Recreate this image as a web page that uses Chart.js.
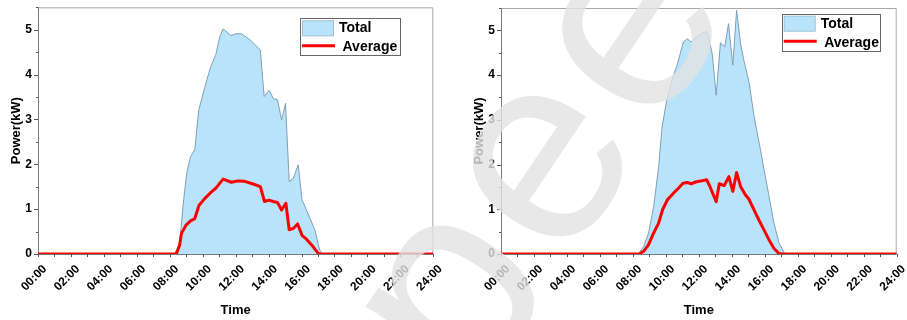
<!DOCTYPE html>
<html>
<head>
<meta charset="utf-8">
<script src="https://cdn.jsdelivr.net/npm/chart.js@4.4.0/dist/chart.umd.min.js"></script>
<style>
  html, body { margin: 0; padding: 0; background: #fff; }
  #wrap { position: relative; width: 907px; height: 320px; overflow: hidden; }
  #c1 { position: absolute; left: 0; top: 0; width: 453px; height: 320px; }
  #c2 { position: absolute; left: 453px; top: 0; width: 454px; height: 320px; }
  #wm { position: absolute; left: 0; top: 0; pointer-events: none; }
</style>
</head>
<body>
<div id="wrap">
  <canvas id="c1" width="453" height="320"></canvas>
  <canvas id="c2" width="454" height="320"></canvas>
  <svg id="wm" width="907" height="320">
    <text x="474" y="401" transform="rotate(-56 474 401)" font-family="Liberation Sans, Arial, sans-serif"
          font-size="270" letter-spacing="10" fill="#e3e3e3" opacity="0.8">peer review</text>
  </svg>
</div>
<script>
// Time of day in hours, power in kW

// Day 1
const day1TotalHours = [0, 8.3, 8.6, 8.8, 9.02, 9.26, 9.52, 9.76, 10.13, 10.47, 10.8, 11.04, 11.24, 11.71, 12.01, 12.35, 12.86, 13.5, 13.73, 14.03, 14.3, 14.54, 14.79, 15.03, 15.25, 15.5, 15.8, 16.03, 16.3, 16.81, 17.1, 17.28, 24];
const day1Total      = [0, 0, 0.24, 1.06, 1.78, 2.17, 2.33, 3.21, 3.72, 4.16, 4.45, 4.85, 5.02, 4.87, 4.91, 4.91, 4.78, 4.55, 3.51, 3.65, 3.46, 3.44, 2.99, 3.36, 1.61, 1.69, 1.99, 1.21, 0.98, 0.54, 0.09, 0, 0];
const day1AvgHours   = [0, 8.4, 8.6, 8.71, 9.0, 9.26, 9.52, 9.77, 10.13, 10.43, 10.8, 11.04, 11.24, 11.75, 12.15, 12.55, 13.06, 13.5, 13.75, 14.02, 14.28, 14.54, 14.79, 15.05, 15.25, 15.5, 15.76, 16.04, 16.3, 16.71, 17.0, 17.1, 24];
const day1Average    = [0, 0, 0.2, 0.46, 0.65, 0.74, 0.79, 1.08, 1.24, 1.35, 1.47, 1.58, 1.67, 1.6, 1.63, 1.62, 1.56, 1.5, 1.17, 1.2, 1.17, 1.15, 0.98, 1.13, 0.54, 0.57, 0.67, 0.41, 0.33, 0.16, 0.02, 0, 0];

// Day 2
const day2TotalHours = [0, 8.35, 8.65, 8.95, 9.26, 9.56, 9.77, 10.05, 10.35, 10.68, 11.06, 11.3, 11.53, 11.8, 12.1, 12.32, 12.52, 12.81, 13.05, 13.31, 13.57, 13.8, 14.06, 14.29, 14.53, 14.75, 15.05, 15.34, 15.7, 15.95, 16.25, 16.55, 16.86, 17.16, 17.25, 24];
const day2Total      = [0, 0, 0.17, 0.47, 1.06, 1.95, 2.84, 3.44, 3.87, 4.22, 4.74, 4.81, 4.74, 4.85, 4.9, 4.96, 4.97, 4.48, 3.55, 4.72, 4.63, 5.15, 4.22, 5.45, 4.7, 4.3, 3.83, 3.1, 2.4, 1.9, 1.3, 0.7, 0.25, 0.04, 0, 0];
const day2AvgHours   = [0, 8.35, 8.65, 8.95, 9.26, 9.56, 9.8, 10.09, 10.46, 10.76, 11.04, 11.29, 11.53, 11.8, 12.1, 12.47, 12.67, 13.05, 13.24, 13.54, 13.82, 14.06, 14.29, 14.53, 14.83, 15.03, 15.34, 15.64, 15.95, 16.25, 16.55, 16.86, 17.0, 24];
const day2Average    = [0, 0, 0.06, 0.21, 0.47, 0.69, 0.99, 1.21, 1.36, 1.47, 1.58, 1.6, 1.57, 1.61, 1.63, 1.66, 1.51, 1.17, 1.57, 1.53, 1.73, 1.4, 1.82, 1.51, 1.32, 1.23, 0.99, 0.76, 0.54, 0.32, 0.13, 0.01, 0, 0];

const seriesNames = ['Total', 'Average'];
const yTitle = 'Power(kW)';
const xTitle = 'Time';
const hourLabel = h => String(h).padStart(2, '0') + ':00';

const FILL = '#b9e3fa';
const EDGE = '#7f9fb5';
const RED = '#ff0000';
const FONT = 'Liberation Sans, Arial, sans-serif';

function points(xs, ys) { return xs.map((x, i) => ({ x: x, y: ys[i] })); }

// Box frame, hour ticks and half-kW ticks
const framePlugin = {
  id: 'frame',
  beforeDatasetsDraw(chart) {
    const { ctx, chartArea: a, scales: { x, y } } = chart;
    ctx.save();
    ctx.lineWidth = 1;
    ctx.strokeStyle = '#a8a8a8';
    ctx.beginPath();
    ctx.moveTo(a.left, a.top + 0.5); ctx.lineTo(a.right - 0.5, a.top + 0.5); ctx.lineTo(a.right - 0.5, a.bottom);
    ctx.stroke();
    ctx.strokeStyle = '#7a7a7a';
    ctx.beginPath();
    ctx.moveTo(a.left + 0.5, a.top); ctx.lineTo(a.left + 0.5, a.bottom + 0.5); ctx.lineTo(a.right, a.bottom + 0.5);
    ctx.stroke();
    ctx.strokeStyle = '#555';
    ctx.beginPath();
    for (let h = 0; h <= 24; h++) {
      const px = Math.round(x.getPixelForValue(h)) + 0.5;
      ctx.moveTo(px, a.bottom); ctx.lineTo(px, a.bottom + 3);
    }
    for (let v = 0; v <= 5.5; v += 0.5) {
      const py = Math.round(y.getPixelForValue(v)) + 0.5;
      const len = Number.isInteger(v) ? 4 : 2;
      ctx.moveTo(a.left, py); ctx.lineTo(a.left - len, py);
    }
    ctx.stroke();
    ctx.restore();
  }
};

// Boxed key in the upper right of the plot
const keyPlugin = {
  id: 'key',
  afterDraw(chart, args, opts) {
    const { ctx, chartArea: a } = chart;
    const w = opts.w, h = opts.h;
    const bx = a.right - opts.right - w, by = a.top + opts.top;
    ctx.save();
    ctx.fillStyle = '#fff';
    ctx.fillRect(bx, by, w, h);
    ctx.strokeStyle = '#666';
    ctx.lineWidth = 1;
    ctx.strokeRect(Math.round(bx) + 0.5, Math.round(by) + 0.5, Math.round(w), Math.round(h));
    ctx.fillStyle = FILL;
    ctx.fillRect(bx + 2.5, by + 2.5, 31, 15);
    ctx.strokeStyle = '#9cc0d6';
    ctx.strokeRect(bx + 2.5, by + 2.5, 31, 15);
    ctx.strokeStyle = RED;
    ctx.lineWidth = 3;
    ctx.beginPath();
    ctx.moveTo(bx + 2, by + 27.5); ctx.lineTo(bx + 35, by + 27.5);
    ctx.stroke();
    ctx.fillStyle = '#000';
    ctx.font = 'bold 14px ' + FONT;
    ctx.textBaseline = 'alphabetic';
    ctx.fillText(seriesNames[0], bx + 39, by + 14);
    ctx.fillText(seriesNames[1], bx + 42.5, by + 33);
    ctx.restore();
  }
};

function makeChart(id, tHours, total, aHours, avg, pad, key) {
  return new Chart(document.getElementById(id), {
    type: 'line',
    data: {
      datasets: [
        {
          label: seriesNames[0], data: points(tHours, total),
          fill: 'origin', backgroundColor: FILL, borderColor: EDGE, borderWidth: 1,
          pointRadius: 0, tension: 0, order: 2
        },
        {
          label: seriesNames[1], data: points(aHours, avg),
          fill: false, borderColor: RED, borderWidth: 3, borderJoinStyle: 'round',
          pointRadius: 0, tension: 0, order: 1
        }
      ]
    },
    options: {
      responsive: false,
      animation: false,
      events: [],
      layout: { padding: pad },
      plugins: { legend: { display: false }, tooltip: { enabled: false }, key: key },
      scales: {
        x: {
          type: 'linear', min: 0, max: 24,
          grid: { display: false, drawTicks: false },
          border: { display: false },
          ticks: {
            stepSize: 2, autoSkip: false, minRotation: 45, maxRotation: 45, padding: 8, labelOffset: 7,
            color: '#000', font: { family: FONT, size: 12, weight: 'bold' },
            callback: v => hourLabel(v)
          },
          title: { display: true, text: xTitle, color: '#000', font: { family: FONT, size: 13, weight: 'bold' }, padding: { top: 0, bottom: 2 } },
          afterFit: s => { s.height = 66; s.paddingLeft = 0; s.paddingRight = 0; }
        },
        y: {
          min: 0, max: 5.5,
          grid: { display: false, drawTicks: false },
          border: { display: false },
          ticks: {
            stepSize: 0.5, padding: 6, color: '#000', font: { family: FONT, size: 12, weight: 'bold' },
            callback: v => Number.isInteger(v) ? v : ''
          },
          title: { display: true, text: yTitle, color: '#000', font: { family: FONT, size: 13, weight: 'bold' }, padding: { top: 9, bottom: 0 } },
          afterFit: s => { s.width = 38; s.paddingTop = 0; s.paddingBottom = 0; }
        }
      }
    },
    plugins: [framePlugin, keyPlugin]
  });
}

makeChart('c1', day1TotalHours, day1Total, day1AvgHours, day1Average,
  { left: 0, right: 19.7, top: 7.3, bottom: 0 },
  { right: 33.3, top: 11, w: 100, h: 37.4 });
makeChart('c2', day2TotalHours, day2Total, day2AvgHours, day2Average,
  { left: 10, right: 10.3, top: 8, bottom: 0 },
  { right: 16.7, top: 5.7, w: 98.3, h: 37 });
</script>
</body>
</html>
